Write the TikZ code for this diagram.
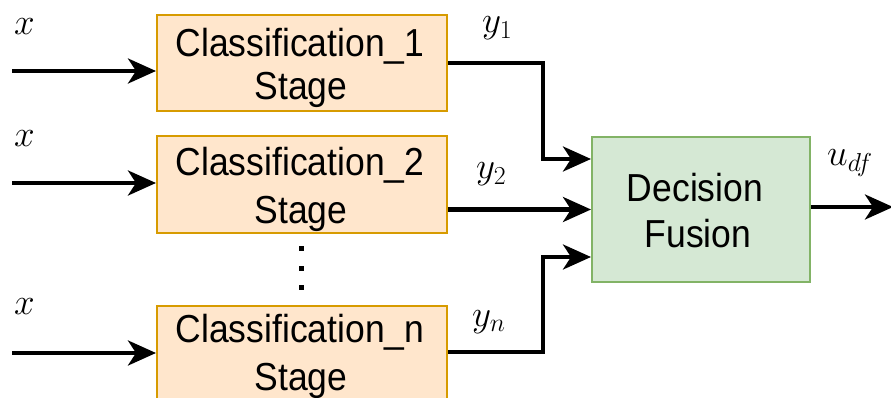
\RequirePackage{fix-cm}
\documentclass[tikz,border=0pt]{standalone}
\usepackage[no-math]{fontspec}
\setmainfont{Liberation Sans}
\usetikzlibrary{arrows.meta,calc}
\definecolor{stagefill}{HTML}{FFE6CC}
\definecolor{stageline}{HTML}{D79B00}
\definecolor{fusefill}{HTML}{D5E8D4}
\definecolor{fuseline}{HTML}{82B366}
% slightly tall lettering for the block captions
\newcommand\tallt[1]{\scalebox{1}[1.1]{#1}}
\tikzset{
  stagebox/.style={draw=stageline, fill=stagefill, line width=2pt,
    minimum width=290pt, minimum height=96pt, inner sep=0pt},
  fusebox/.style={draw=fuseline, fill=fusefill, line width=2pt,
    minimum width=218pt, minimum height=145pt, inner sep=0pt},
  caption/.style={anchor=base, inner sep=0pt, font=\fontsize{35.5}{40}\selectfont},
  flow/.style={line width=4pt, -{Stealth[length=28pt,width=25pt,inset=8pt]}},
  lbl/.style={anchor=base west, inner sep=0pt, font=\fontsize{37}{42}\selectfont},
  dotmark/.style={fill=black, inner sep=0pt, minimum size=5pt}
}
\begin{document}
\begin{tikzpicture}[x=1pt,y=-1pt]
  \useasboundingbox (0,0) rectangle (891,398);
  \clip (0,0) rectangle (891,398);

  % classification stages and the fusion block
  \node[stagebox] (c1) at (302,63) {};
  \node[stagebox] (c2) at (302,184.5) {};
  \node[stagebox] (cn) at (302,353.5) {};
  \node[fusebox] (df) at (701,209.5) {};

  % block captions, one node per line
  \node[caption] (c1a) at (300,57)  {\tallt{Classification\_1}};
  \node[caption] (c1b) at (301,100) {\tallt{Stage}};
  \node[caption] (c2a) at (300,176) {\tallt{Classification\_2}};
  \node[caption] (c2b) at (301,223) {\tallt{Stage}};
  \node[caption] (cna) at (300,342) {\tallt{Classification\_n}};
  \node[caption] (cnb) at (301,390) {\tallt{Stage}};
  \node[caption] (dfa) at (695,201) {\tallt{Decision}};
  \node[caption] (dfb) at (698,247) {\tallt{Fusion}};

  % vertical ellipsis between stage 2 and stage n
  \node[dotmark] (d1) at (301,248) {};
  \node[dotmark] (d2) at (301,268) {};
  \node[dotmark] (d3) at (301,287) {};

  % inputs
  \coordinate (i1) at (12,71);
  \coordinate (i2) at (12,183);
  \coordinate (in) at (12,353);
  \draw[flow] (i1) -- (i1 -| c1.west);
  \draw[flow] (i2) -- (i2 -| c2.west);
  \draw[flow] (in) -- (in -| cn.west);
  \node[lbl] (x1) at (14,35)  {$x$};
  \node[lbl] (x2) at (14,147) {$x$};
  \node[lbl] (xn) at (14,314) {$x$};

  % stage outputs into the fusion block
  \coordinate (b1) at (543,63);
  \coordinate (bn) at (543,352);
  \draw[flow] (c1.east |- b1) -- (b1) |- ([yshift=50.5pt]df.west);
  \draw[flow] (c2.east |- df.west) -- (df.west);
  \draw[flow] (cn.east |- bn) -- (bn) |- ([yshift=-47.5pt]df.west);
  \node[lbl] (y1) at (482,33)  {$y_1$};
  \node[lbl] (y2) at (476,179) {$y_2$};
  \node[lbl] (yn) at (472,326) {$y_n$};

  % fused output
  \coordinate (o) at (893,207);
  \draw[flow] (df.east |- o) -- (o);
  \node[lbl] (u) at (827,166) {$u_{df}$};
\end{tikzpicture}
\end{document}
